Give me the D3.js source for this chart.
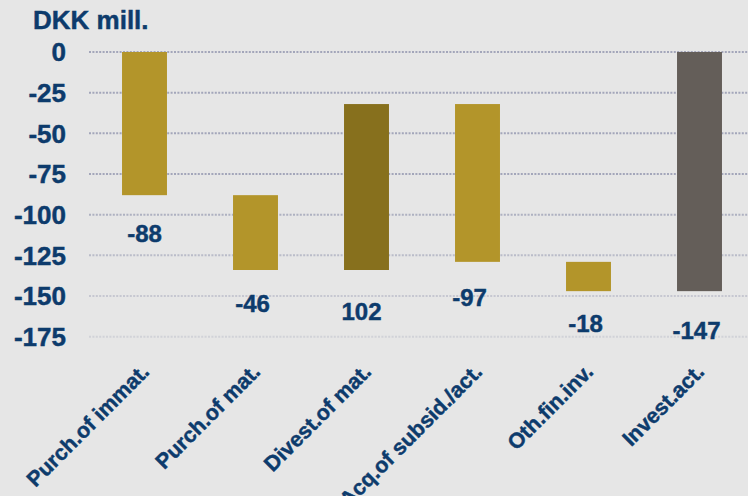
<!DOCTYPE html>
<html>
<head>
<meta charset="utf-8">
<script src="https://cdn.jsdelivr.net/npm/d3@7/dist/d3.min.js"></script>
<style>
  html, body { margin: 0; padding: 0; background: #e6e6e6; }
  svg { display: block; font-family: "Liberation Sans", Arial, sans-serif; font-weight: bold; }
  svg text { stroke: #0d3b6c; stroke-width: 0.45px; }
</style>
</head>
<body>
<svg id="chart" width="748" height="496"></svg>
<script>
// Investing cash flow bridge, DKK million
const categories = ["Purch.of immat.", "Purch.of mat.", "Divest.of mat.", "Acq.of subsid./act.", "Oth.fin.inv.", "Invest.act."];
const changes = [-88, -46, 102, -97, -18, -147];
const isTotal = [false, false, false, false, false, true];
const yTicks = [0, -25, -50, -75, -100, -125, -150, -175];
const unitLabel = "DKK mill.";

// small label nudges (px) so value labels sit clear of the bars
const labelDx = [0, -3, -5, -8, -3, -3];
const labelDy = [47, 42, 50, 44, 41, 48];

const colNeg = "#b3952a";
const colPos = "#87701d";
const colTotal = "#645e59";
const textCol = "#0d3b6c";

// running totals -> floating bar extents
let run = 0;
const bars = categories.map((c, i) => {
  let start, end;
  if (isTotal[i]) { start = 0; end = changes[i]; run = changes[i]; }
  else { start = run; end = run + changes[i]; run = end; }
  return { cat: c, value: changes[i], start, end, i };
});

const svg = d3.select("#chart");
const W = 748, H = 496;

const x = d3.scaleBand().domain(categories).range([89, 755]).paddingInner(0.595).paddingOuter(0.2975);
const y = d3.scaleLinear().domain([-175, 0]).range([336.7, 52]);

// dotted gridlines, fading toward the bottom
const gridOpacity = d3.scaleLinear().domain([-75, -175]).range([1, 0.3]).clamp(true);
svg.append("g").selectAll("line").data(yTicks).join("line")
  .attr("x1", 89).attr("x2", W)
  .attr("y1", d => y(d)).attr("y2", d => y(d))
  .attr("stroke", "#a3a6ba")
  .attr("stroke-width", 2)
  .attr("stroke-dasharray", "2,1.4")
  .attr("opacity", d => gridOpacity(d));

// y axis labels (plain hyphen-minus)
svg.append("g").selectAll("text").data(yTicks).join("text")
  .attr("x", 66).attr("y", d => y(d))
  .attr("dy", "0.36em")
  .attr("text-anchor", "end")
  .attr("font-size", 26)
  .attr("fill", textCol)
  .text(d => String(d));

// unit label
svg.append("text")
  .attr("x", 33).attr("y", 29)
  .attr("font-size", 26)
  .attr("fill", textCol)
  .text(unitLabel);

// bars
svg.append("g").selectAll("rect").data(bars).join("rect")
  .attr("x", d => x(d.cat))
  .attr("width", x.bandwidth())
  .attr("y", d => y(Math.max(d.start, d.end)))
  .attr("height", d => Math.abs(y(d.start) - y(d.end)))
  .attr("fill", d => isTotal[d.i] ? colTotal : (d.value >= 0 ? colPos : colNeg));

// value labels under each bar
svg.append("g").selectAll("text").data(bars).join("text")
  .attr("x", d => x(d.cat) + x.bandwidth() / 2 + labelDx[d.i])
  .attr("y", d => y(Math.min(d.start, d.end)) + labelDy[d.i])
  .attr("text-anchor", "middle")
  .attr("font-size", 24)
  .attr("fill", textCol)
  .text(d => String(d.value));

// rotated category labels
svg.append("g").selectAll("text").data(categories).join("text")
  .attr("transform", d => `translate(${x(d) + x.bandwidth() / 2 + 6},${373}) rotate(-45)`)
  .attr("text-anchor", "end")
  .attr("font-size", 21.5)
  .attr("fill", textCol)
  .text(d => d);
</script>
</body>
</html>
